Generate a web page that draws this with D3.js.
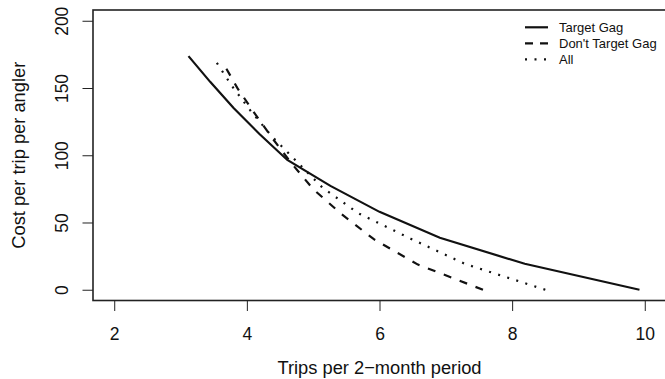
<!DOCTYPE html>
<html>
<head>
<meta charset="utf-8">
<script src="https://cdn.jsdelivr.net/npm/d3@7"></script>
<style>
  body { margin: 0; background: #fff; }
  svg { font-family: "Liberation Sans", Arial, sans-serif; }
</style>
</head>
<body>
<div id="chart"></div>
<script>
// values
const xTicks = [2, 4, 6, 8, 10];
const yTicks = [0, 50, 100, 150, 200];

const costTarget = [0, 19.3, 38.6, 57.9, 77.2, 96.5, 115.8, 135.1, 154.4, 173.7];
const tripsTarget = [9.92, 8.19, 6.91, 6.0, 5.26, 4.61, 4.19, 3.8, 3.45, 3.12];

const costNoTarget = [0, 18.7, 37.4, 56.1, 74.8, 93.6, 112.3, 131, 149.7, 168.4];
const tripsNoTarget = [7.56, 6.58, 5.92, 5.43, 5.0, 4.68, 4.39, 4.12, 3.86, 3.645];

const costAll = [0, 19, 38, 56.9, 75.9, 94.9, 113.9, 132.8, 151.8, 170.8];
const tripsAll = [8.5, 7.3, 6.47, 5.68, 5.14, 4.76, 4.38, 4.06, 3.77, 3.52];

const seriesNames = ['Target Gag', "Don't Target Gag", 'All'];
const dashes = [null, '8,9', '2,7.5'];

const width = 665, height = 379;
const box = { left: 93, right: 666, top: 10, bottom: 300.5 };

const x = d3.scaleLinear().domain([1.68, 10.32]).range([box.left, box.right]);
const y = d3.scaleLinear().domain([-8, 208]).range([box.bottom, box.top]);

const svg = d3.select('#chart').append('svg')
  .attr('width', width)
  .attr('height', height);

const series = [
  costTarget.map((c, i) => ({ x: tripsTarget[i], y: c })),
  costNoTarget.map((c, i) => ({ x: tripsNoTarget[i], y: c })),
  costAll.map((c, i) => ({ x: tripsAll[i], y: c })),
];

const line = d3.line()
  .x(d => x(d.x))
  .y(d => y(d.y));

series.forEach((s, i) => {
  svg.append('path')
    .attr('d', line(s))
    .attr('fill', 'none')
    .attr('stroke', '#111')
    .attr('stroke-width', 2.2)
    .attr('stroke-dasharray', dashes[i]);
});

// plot frame
svg.append('rect')
  .attr('x', box.left)
  .attr('y', box.top)
  .attr('width', box.right - box.left)
  .attr('height', box.bottom - box.top)
  .attr('fill', 'none')
  .attr('stroke', '#222')
  .attr('stroke-width', 1.6);

// x axis
const gx = svg.append('g')
  .attr('transform', `translate(0,${box.bottom})`)
  .call(d3.axisBottom(x).tickValues(xTicks).tickSize(10.5).tickPadding(17).tickSizeOuter(0));
gx.select('.domain').remove();
gx.selectAll('.tick line').attr('stroke', '#222');
gx.selectAll('.tick text').attr('font-size', 17.5).attr('fill', '#111').attr('font-family', null);

// y axis with rotated labels
const gy = svg.append('g')
  .attr('transform', `translate(${box.left},0)`)
  .call(d3.axisLeft(y).tickValues(yTicks).tickSize(10.5).tickSizeOuter(0));
gy.select('.domain').remove();
gy.selectAll('.tick line').attr('stroke', '#222');
gy.selectAll('.tick text')
  .attr('font-size', 17.5)
  .attr('fill', '#111')
  .attr('font-family', null)
  .attr('text-anchor', 'middle')
  .attr('transform', 'rotate(-90)')
  .attr('x', 0)
  .attr('y', -25)
  .attr('dy', 0);

// axis titles
svg.append('text')
  .attr('x', (box.left + box.right) / 2)
  .attr('y', 374)
  .attr('text-anchor', 'middle')
  .attr('font-size', 18.3)
  .attr('fill', '#111')
  .text('Trips per 2\u2212month period');

svg.append('text')
  .attr('transform', `translate(25,${(box.top + box.bottom) / 2}) rotate(-90)`)
  .attr('text-anchor', 'middle')
  .attr('font-size', 18.3)
  .attr('fill', '#111')
  .text('Cost per trip per angler');

// legend
const legend = svg.append('g');
seriesNames.forEach((name, i) => {
  const ly = 27.3 + i * 16;
  legend.append('line')
    .attr('x1', 525).attr('x2', 548)
    .attr('y1', ly).attr('y2', ly)
    .attr('stroke', '#111')
    .attr('stroke-width', 2.2)
    .attr('stroke-dasharray', i === 1 ? '8,7' : dashes[i]);
  legend.append('text')
    .attr('x', 559)
    .attr('y', ly + 4.6)
    .attr('font-size', 13)
    .attr('fill', '#111')
    .text(name);
});
</script>
</body>
</html>
